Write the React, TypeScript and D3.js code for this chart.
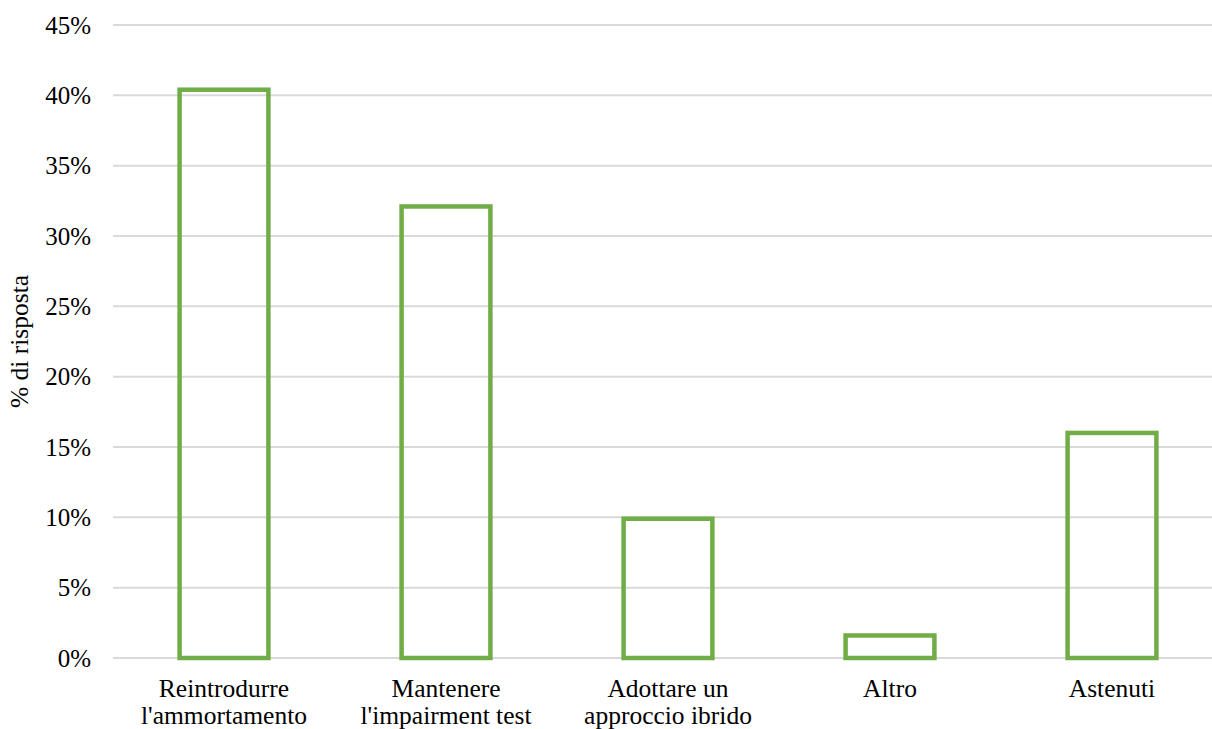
import React from "react";
import * as d3 from "d3";

const categories: string[][] = [
  ["Reintrodurre", "l'ammortamento"],
  ["Mantenere", "l'impairment test"],
  ["Adottare un", "approccio ibrido"],
  ["Altro"],
  ["Astenuti"],
];
const values: number[] = [0.404, 0.321, 0.099, 0.016, 0.16];
const yTicks: number[] = [0, 0.05, 0.1, 0.15, 0.2, 0.25, 0.3, 0.35, 0.4, 0.45];
const yTitle = "% di risposta";

const W = 1212;
const H = 729;
const FONT = "'Liberation Serif', 'Times New Roman', serif";

export default function App() {
  const left = 113;
  const right = 1223;
  const top = 25;
  const bottom = 658;
  const keys = categories.map((_, i) => String(i));
  const x = d3.scaleBand<string>().domain(keys).range([left, right]).paddingInner(0.6).paddingOuter(0.3);
  const y = d3.scaleLinear().domain([0, 0.45]).range([bottom, top]);
  const fmt = d3.format(".0%");
  return (
    <svg width={W} height={H} style={{ position: "absolute", left: 0, top: 0, display: "block" }}>
      <rect x={0} y={0} width={W} height={H} fill="#ffffff" />
      {yTicks.map((t) => (
        <g key={t}>
          <line x1={left} x2={W} y1={y(t)} y2={y(t)} stroke="#d9d9d9" strokeWidth={2} />
          <text x={91} y={y(t)} dy="0.35em" textAnchor="end" fontFamily={FONT} fontSize={25} fill="#000">
            {fmt(t)}
          </text>
        </g>
      ))}
      {values.map((v, i) => (
        <rect
          key={i}
          x={x(String(i))!}
          y={y(v)}
          width={x.bandwidth()}
          height={y(0) - y(v)}
          fill="none"
          stroke="#70ad47"
          strokeWidth={4.5}
        />
      ))}
      {categories.map((lines, i) =>
        lines.map((l, j) => (
          <text
            key={`${i}-${j}`}
            x={x(String(i))! + x.bandwidth() / 2}
            y={697 + j * 26.5}
            textAnchor="middle"
            fontFamily={FONT}
            fontSize={25.5}
            fill="#000"
          >
            {l}
          </text>
        ))
      )}
      <text
        transform={`translate(28, ${(top + bottom) / 2}) rotate(-90)`}
        textAnchor="middle"
        fontFamily={FONT}
        fontSize={25.5}
        fill="#000"
      >
        {yTitle}
      </text>
    </svg>
  );
}
